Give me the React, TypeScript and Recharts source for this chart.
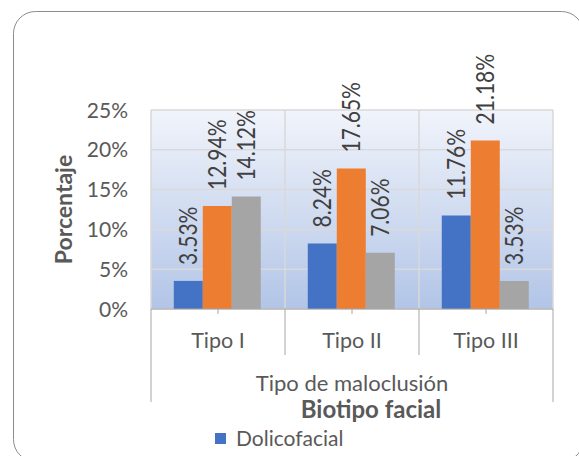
import React from 'react';
import { BarChart, Bar, XAxis, YAxis, CartesianGrid, LabelList } from 'recharts';

// Percentages by malocclusion type, one array per facial biotype
const categories = ['Tipo I', 'Tipo II', 'Tipo III'];
const dolicofacial = [3.53, 8.24, 11.76];
const mesofacial = [12.94, 17.65, 21.18];
const braquifacial = [14.12, 7.06, 3.53];

const seriesKeys = ['dolicofacial', 'mesofacial', 'braquifacial'];
const seriesNames = ['Dolicofacial', 'Mesofacial', 'Braquifacial'];
const seriesColors = ['#4472C4', '#ED7D31', '#A5A5A5'];

const yTicks = [0, 5, 10, 15, 20, 25];
const yAxisTitle = 'Porcentaje';
const xAxisTitle = 'Tipo de maloclusión';
const chartTitle = 'Biotipo facial';

const seriesValues = [dolicofacial, mesofacial, braquifacial];
const data = categories.map((category, i) => {
  const row: Record<string, string | number> = { category };
  seriesKeys.forEach((key, s) => {
    row[key] = seriesValues[s][i];
  });
  return row;
});

// Layout
const W = 579;
const H = 456;
const MARGIN = { top: 110, right: 26, bottom: 100, left: 0 };
const Y_AXIS_W = 151;
const X_AXIS_H = 47;
const PLOT_LEFT = MARGIN.left + Y_AXIS_W;
const PLOT_RIGHT = W - MARGIN.right;
const PLOT_TOP = MARGIN.top;
const PLOT_BOTTOM = H - MARGIN.bottom - X_AXIS_H;
const BAND = (PLOT_RIGHT - PLOT_LEFT) / categories.length;

const FONT = 'Lato, "Open Sans", sans-serif';
const TEXT = '#595959';
const LABEL_TEXT = '#404040';
const GRID = '#d9d9d9';
const AXIS = '#a6a6a6';

const YTick = (props: any) => {
  const { x, y, payload } = props;
  return (
    <text x={x} y={y} dy="0.36em" textAnchor="end" fontFamily={FONT} fontSize={21} fill={TEXT}>
      {`${payload.value}%`}
    </text>
  );
};

const XTick = (props: any) => {
  const { x, y, payload } = props;
  return (
    <text x={x} y={y + 34} textAnchor="middle" fontFamily={FONT} fontSize={21.5} fill={TEXT}>
      {payload.value}
    </text>
  );
};

const ValueLabel = (props: any) => {
  const { x, y, width, value } = props;
  const cx = Number(x) + Number(width) / 2;
  const by = Number(y) - 16;
  return (
    <text
      transform={`translate(${cx},${by}) rotate(-90) scale(1,1.15)`}
      textAnchor="start"
      dominantBaseline="central"
      fontFamily={FONT}
      fontSize={21}
      fill={LABEL_TEXT}
    >
      {`${Number(value).toFixed(2)}%`}
    </text>
  );
};

// Two-level category table below the plot: inner dividers between
// categories, outer borders reaching down past the group title.
const CategoryTable = () => {
  const lines = [];
  for (let i = 0; i <= categories.length; i++) {
    const x = PLOT_LEFT + i * BAND;
    const outer = i === 0 || i === categories.length;
    lines.push(
      <line
        key={i}
        x1={x}
        x2={x}
        y1={PLOT_BOTTOM}
        y2={outer ? PLOT_BOTTOM + 93 : PLOT_BOTTOM + 46}
        stroke={AXIS}
        strokeWidth={1}
      />
    );
  }
  return (
    <g>
      {lines}
      <text
        x={(PLOT_LEFT + PLOT_RIGHT) / 2}
        y={PLOT_BOTTOM + 82}
        textAnchor="middle"
        fontFamily={FONT}
        fontSize={22}
        fill={TEXT}
      >
        {xAxisTitle}
      </text>
      <text
        x={(PLOT_LEFT + PLOT_RIGHT) / 2 + 19}
        y={PLOT_BOTTOM + 109}
        textAnchor="middle"
        fontFamily={FONT}
        fontSize={24}
        fontWeight="bold"
        fill={TEXT}
      >
        {chartTitle}
      </text>
    </g>
  );
};

// Legend laid out in rows; rows that do not fit inside the chart are dropped
const LegendRows = () => {
  const top = 433;
  const rowH = 26;
  return (
    <g>
      {seriesNames.map((name, i) => {
        const y = top + i * rowH;
        if (y + 11 > H) return null;
        return (
          <g key={name}>
            <rect x={215} y={y} width={11} height={11} fill={seriesColors[i]} />
            <text x={236} y={y + 13} fontFamily={FONT} fontSize={21} fill={TEXT}>
              {name}
            </text>
          </g>
        );
      })}
    </g>
  );
};

const YTitle = () => {
  const cy = (PLOT_TOP + PLOT_BOTTOM) / 2;
  return (
    <text
      transform={`translate(72,${cy}) rotate(-90)`}
      textAnchor="middle"
      fontFamily={FONT}
      fontSize={23}
      fontWeight="bold"
      fill={TEXT}
    >
      {yAxisTitle}
    </text>
  );
};

const Frame = () => (
  <rect x={13.5} y={11.5} width={570} height={450} rx={22} ry={22} fill="none" stroke="#8c8c8c" strokeWidth={1} />
);

export default function App() {
  return (
    <div style={{ position: 'absolute', left: 0, top: 0, width: W, height: H, background: '#fff' }}>
      <BarChart
        width={W}
        height={H}
        data={data}
        margin={MARGIN}
        barCategoryGap="17%"
        barGap={0}
      >
        <defs>
          <linearGradient id="plotBg" x1="0" y1="0" x2="0" y2="1">
            <stop offset="0%" stopColor="#f1f4fb" />
            <stop offset="100%" stopColor="#b2c5e7" />
          </linearGradient>
        </defs>
        <Frame />
        <CartesianGrid
          stroke={GRID}
          strokeWidth={1.5}
          fill="url(#plotBg)"
          fillOpacity={1}
          verticalCoordinatesGenerator={({ offset }: any) =>
            categories
              .map((_, i) => offset.left + (i * offset.width) / categories.length)
              .concat(offset.left + offset.width)
          }
        />
        <XAxis
          dataKey="category"
          height={X_AXIS_H}
          tick={<XTick />}
          tickSize={5}
          tickMargin={0}
          tickLine={{ stroke: AXIS }}
          axisLine={{ stroke: AXIS }}
        />
        <YAxis
          width={Y_AXIS_W}
          domain={[0, 25]}
          ticks={yTicks}
          tick={<YTick />}
          tickSize={0}
          tickMargin={23}
          tickLine={false}
          axisLine={false}
        />
        {seriesKeys.map((key, i) => (
          <Bar key={key} dataKey={key} name={seriesNames[i]} fill={seriesColors[i]} isAnimationActive={false}>
            <LabelList dataKey={key} content={<ValueLabel />} />
          </Bar>
        ))}
        <CategoryTable />
        <YTitle />
        <LegendRows />
      </BarChart>
    </div>
  );
}
